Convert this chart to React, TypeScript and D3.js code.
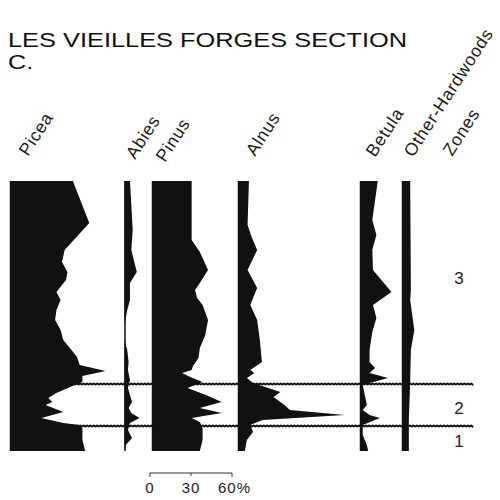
import React from "react";
import * as d3 from "d3";

// depth (cm below top of section) and pollen percentage
const piceaData: [number, number][] = [
    [0, 46], [42, 58], [69, 40], [81, 38], [91, 42], [99, 41], [111, 34], [119, 37], [129, 34], [139, 33],
    [149, 37], [159, 39], [169, 45], [176, 49], [184, 51], [190, 70], [195, 53], [201, 53], [206, 44],
    [212, 34], [217, 28], [221, 31], [224, 26], [231, 39], [237, 23], [242, 39], [244, 51], [247, 53],
    [259, 53], [270, 55],
];
const abiesData: [number, number][] = [
    [0, 4], [49, 6], [69, 5], [91, 9], [102, 4], [119, 4], [129, 2], [144, 0], [159, 0], [169, 2],
    [181, 3], [189, 2.5], [199, 4], [207, 2.5], [214, 4], [221, 5.5], [227, 3], [232, 5], [237, 11],
    [242, 4], [249, 2.5], [257, 5.5], [264, 1], [270, 0],
];
const pinusData: [number, number][] = [
    [0, 29], [59, 29], [71, 35], [89, 41], [102, 35], [109, 31.5], [117, 33], [124, 37], [139, 41],
    [154, 39], [167, 35], [177, 34], [185, 30], [189, 29], [192, 22], [196, 28], [201, 37], [207, 26],
    [214, 39.5], [221, 51], [227, 35], [232, 51], [237, 29], [241, 35], [247, 37], [259, 37], [270, 35],
];
const alnusData: [number, number][] = [
    [0, 8], [44, 7], [56, 10], [69, 14], [89, 7], [107, 14], [124, 9], [139, 14], [159, 16], [181, 17.5],
    [189, 9], [192, 12], [197, 6.5], [202, 11], [211, 31], [216, 26], [224, 34], [229, 38], [234, 78],
    [239, 18], [244, 9], [251, 11], [259, 6.5], [270, 5],
];
const betulaData: [number, number][] = [
    [0, 13], [39, 9], [54, 12], [69, 9], [89, 9.5], [111, 23], [124, 9.5], [137, 12], [151, 9], [169, 7],
    [181, 7], [187, 11], [192, 7], [197, 20.5], [204, 2], [214, 3.5], [224, 5], [229, 2], [234, 7],
    [237, 14.5], [244, 2], [254, 2], [264, 5], [270, 6],
];
const otherHardwoodsData: [number, number][] = [
    [0, 6], [109, 6.5], [119, 6], [139, 8], [149, 9], [169, 6.5], [199, 6], [239, 5], [270, 5],
];

const taxa = ["Picea", "Abies", "Pinus", "Alnus", "Betula", "Other-Hardwoods"];
const taxonData = [piceaData, abiesData, pinusData, alnusData, betulaData, otherHardwoodsData];

const zoneBoundaries = [203, 245];
const zoneLabels = ["3", "2", "1"];
const zoneLabelDepths = [97, 227, 260];
const scaleTicks = [0, 30, 60];

// layout
const baseX = [10, 124.5, 152, 238, 360, 402];
const labelPos: [number, number][] = [[28, 157], [135, 160], [165, 163], [255, 157], [375, 158], [413, 158]];
const zonesLabelPos: [number, number] = [452, 157];
const pxPerPct = 82 / 60;
const ink = "#111";
const font = "'Liberation Sans', Arial, Helvetica, sans-serif";

const y = d3.scaleLinear().domain([0, 270]).range([181, 451]);

// rope-like zone boundary
const wavy = (x0: number, x1: number, yy: number) => {
    const pts: [number, number][] = d3.range(x0, x1, 1.7).map((x, i) => [x, yy + (i % 2 ? 1.4 : -1.4)]);
    return d3.line().curve(d3.curveBasis)(pts) || "";
};

const App: React.FC = () => {
    const scaleX = d3.scaleLinear().domain([0, 60]).range([150, 150 + 60 * pxPerPct]);

    return (
        <svg width={500} height={500} style={{position: "absolute", left: 0, top: 0, background: "#fff"}}
             fontFamily={font}>
            <text x={8} y={47} fontSize={21} fill="#111" textLength={399} lengthAdjust="spacingAndGlyphs">
                LES VIEILLES FORGES SECTION
            </text>
            <text transform="translate(8,69) scale(1.2,1)" fontSize={21} fill="#111">C.</text>

            {taxa.map((name, i) => {
                const x = d3.scaleLinear().domain([0, 100]).range([baseX[i], baseX[i] + 100 * pxPerPct]);
                const area = d3.area<[number, number]>()
                    .x0(baseX[i])
                    .x1((d) => x(d[1]))
                    .y((d) => y(d[0]));
                return (
                    <g key={name}>
                        <path d={area(taxonData[i]) || ""} fill={ink}/>
                        <line x1={baseX[i] + 0.5} x2={baseX[i] + 0.5} y1={y(0)} y2={y(270)} stroke={ink}
                              strokeWidth={1.5}/>
                        <text transform={`translate(${labelPos[i][0]},${labelPos[i][1]}) rotate(-57)`}
                              fontSize={17.5} letterSpacing={0.7} fill="#1a1a1a">{name}</text>
                    </g>
                );
            })}
            <text transform={`translate(${zonesLabelPos[0]},${zonesLabelPos[1]}) rotate(-57)`}
                  fontSize={17.5} letterSpacing={0.7} fill="#1a1a1a">Zones</text>

            {zoneBoundaries.map((d) => (
                <path key={d} d={wavy(70, 473, y(d))} fill="none" stroke={ink} strokeWidth={1.9}/>
            ))}
            {zoneLabels.map((z, i) => (
                <text key={z} x={459} y={y(zoneLabelDepths[i]) + 6} fontSize={17} textAnchor="middle"
                      fill="#222">{z}</text>
            ))}

            <path d={`M${scaleX(0)},477V473H${scaleX(60)}V477M${scaleX(30)},473V476`} fill="none"
                  stroke="#333" strokeWidth={1}/>
            {scaleTicks.map((t) => (
                <text key={t} x={t === 60 ? scaleX(t) - 14 : scaleX(t)} y={493} fontSize={15}
                      textAnchor={t === 60 ? "start" : "middle"} letterSpacing={1} fill="#222">
                    {t === 60 ? "60%" : t}
                </text>
            ))}
        </svg>
    );
};

export default App;
